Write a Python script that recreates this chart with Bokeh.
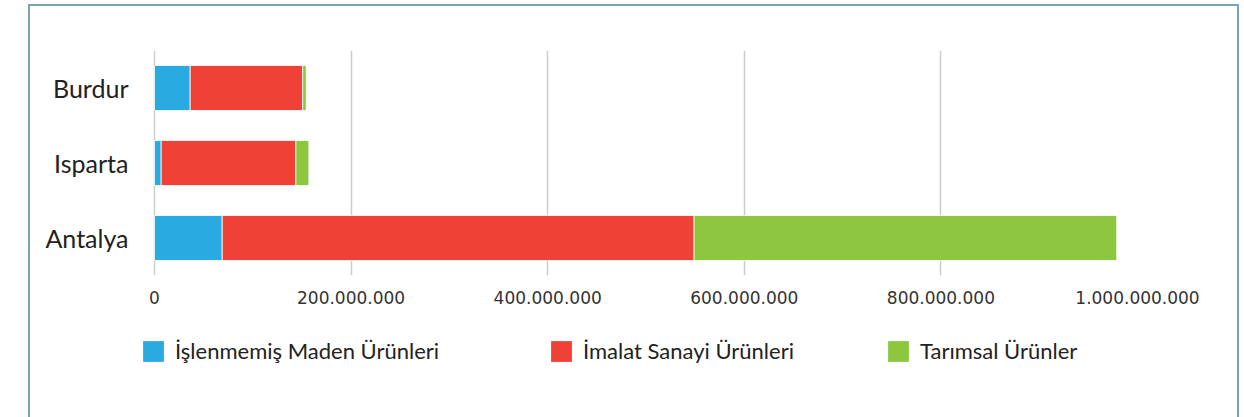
from bokeh.plotting import figure
from bokeh.layouts import column
from bokeh.models import (FactorRange, Range1d, FixedTicker, CustomJSTickFormatter,
                          Legend, LegendItem)
from bokeh.embed import file_html
from bokeh.resources import INLINE

# ---- data ----
provinces = ["Antalya", "Isparta", "Burdur"]  # bottom -> top
series = ["İşlenmemiş Maden Ürünleri", "İmalat Sanayi Ürünleri", "Tarımsal Ürünler"]
maden = [68.9e6, 6.8e6, 36.3e6]
imalat = [480.0e6, 137.0e6, 114.5e6]
tarim = [430.0e6, 13.2e6, 3.5e6]
ticks = [0, 200e6, 400e6, 600e6, 800e6, 1000e6]
colors = ["#29abe2", "#ef4136", "#8dc63f"]

data = {"prov": provinces, "maden": maden, "imalat": imalat, "tarim": tarim}
stackers = ["maden", "imalat", "tarim"]

BC = "#78a3bb"

# ---- main chart ----
p = figure(width=1244, height=320, output_backend="svg", toolbar_location=None,
           y_range=FactorRange(*provinces, range_padding=0),
           x_range=Range1d(-21.36e6, 1e9),
           min_border_left=133, min_border_right=107, min_border_top=50, min_border_bottom=45)
p.outline_line_color = None
p.background_fill_alpha = 0
p.border_fill_alpha = 0

p.hbar_stack(stackers, y="prov", height=0.6,
             color=colors, source=data, line_color="white", line_width=0.8)

p.xaxis.ticker = FixedTicker(ticks=ticks)
p.xaxis.formatter = CustomJSTickFormatter(code="""
    return Math.round(tick).toString().replace(/\\B(?=(\\d{3})+(?!\\d))/g, ".");
""")
p.xaxis.axis_line_color = None
p.xaxis.major_tick_line_color = None
p.xaxis.minor_tick_line_color = None
p.xaxis.major_tick_out = 0
p.xaxis.major_label_standoff = 15
p.xaxis.major_label_text_font = "DejaVu Sans"
p.xaxis.major_label_text_font_size = "17px"
p.xaxis.major_label_text_color = "#333333"

p.yaxis.axis_line_color = None
p.yaxis.major_tick_line_color = None
p.yaxis.major_tick_out = 0
p.yaxis.major_label_standoff = 5
p.yaxis.major_label_text_font = "Lato"
p.yaxis.major_label_text_font_size = "25px"
p.yaxis.major_label_text_color = "#222222"

p.ygrid.grid_line_color = None
p.xgrid.grid_line_color = "#cccccc"
p.xgrid.grid_line_width = 1.5

# ---- legend strip (hidden copies of the series supply the legend swatches) ----
q = figure(width=1244, height=97, output_backend="svg", toolbar_location=None,
           y_range=FactorRange(*provinces, range_padding=0),
           x_range=Range1d(-21.36e6, 1e9),
           x_axis_location=None, y_axis_location=None,
           min_border_left=133, min_border_right=107, min_border_top=0, min_border_bottom=0)
q.outline_line_color = None
q.background_fill_alpha = 0
q.border_fill_alpha = 0
q.grid.visible = False

hidden = q.hbar_stack(stackers, y="prov", height=0.6, color=colors, source=data,
                      line_color=None, visible=False)

leg_x = [7, 415, 752]  # relative to the strip's frame (which starts at x=133)
for name, r, lx in zip(series, hidden, leg_x):
    lg = Legend(items=[LegendItem(label=name, renderers=[r])], location=(lx, 53),
                orientation="horizontal", padding=0, margin=0, border_line_color=None,
                background_fill_alpha=0, glyph_width=26, glyph_height=26,
                label_standoff=9, label_height=21, inactive_fill_alpha=0,
                label_text_font="Lato", label_text_font_size="22px",
                label_text_color="#222222")
    q.add_layout(lg, "center")

layout = column(p, q, spacing=0, styles={
    "background-color": "white",
    "background-image": f"linear-gradient({BC},{BC}), linear-gradient({BC},{BC}), linear-gradient({BC},{BC})",
    "background-size": "2px 420px, 1211px 2px, 2px 420px",
    "background-position": "28px 4px, 28px 4px, 1237px 4px",
    "background-repeat": "no-repeat",
})

open("out.html", "w").write(file_html(layout, INLINE))
